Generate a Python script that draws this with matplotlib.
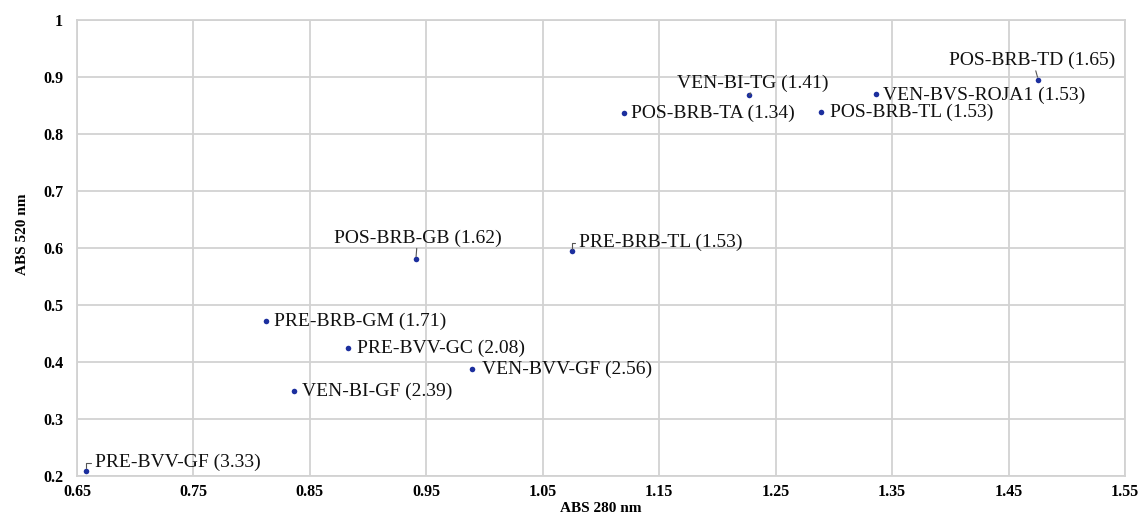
import numpy as np
import matplotlib
matplotlib.use("Agg")
import matplotlib.pyplot as plt

# -----------------------------
# data
# -----------------------------
samples = ["PRE-BVV-GF", "PRE-BRB-GM", "PRE-BVV-GC", "VEN-BI-GF", "VEN-BVV-GF",
           "POS-BRB-GB", "PRE-BRB-TL", "POS-BRB-TA", "VEN-BI-TG", "POS-BRB-TL",
           "VEN-BVS-ROJA1", "POS-BRB-TD"]
ratios = ["3.33", "1.71", "2.08", "2.39", "2.56", "1.62", "1.53", "1.34", "1.41",
          "1.53", "1.53", "1.65"]
abs280 = [0.658, 0.812, 0.883, 0.836, 0.989, 0.941, 1.075, 1.1195, 1.2275, 1.2885,
          1.336, 1.4755]
abs520 = [0.209, 0.472, 0.424, 0.349, 0.388, 0.580, 0.594, 0.836, 0.868, 0.838,
          0.870, 0.895]

xticks = [0.65, 0.75, 0.85, 0.95, 1.05, 1.15, 1.25, 1.35, 1.45, 1.55]
yticks = [0.2, 0.3, 0.4, 0.5, 0.6, 0.7, 0.8, 0.9, 1.0]
yticklabels = ["0.2", "0.3", "0.4", "0.5", "0.6", "0.7", "0.8", "0.9", "1"]

# label placement (pixel offsets from the dot, y up), alignment, leader line
label_pos = [(8.6, 9, "left", True), (8, 0, "left", False), (8.7, 0, "left", False),
             (8.4, 0, "left", False), (10, 0, "left", False), (2.2, 21, "center", True),
             (7.3, 9, "left", True), (7.3, 0, "left", False), (3, 12.3, "center", True),
             (9, 0, "left", False), (7, -1, "left", False), (-6.2, 19, "center", True)]

# -----------------------------
# plot
# -----------------------------
plt.rcParams["font.family"] = ["Liberation Serif", "DejaVu Serif"]
GRID = "#d2d2d2"
DOT = "#1c2f9e"

fig = plt.figure(figsize=(11.44, 5.15), dpi=100)
ax = fig.add_axes([0.0673, 0.0757, 0.9161, 0.8855])

ax.scatter(abs280, abs520, s=16, color=DOT, zorder=3, linewidths=0)

for name, r, x, y, (dx, dy, ha, lead) in zip(samples, ratios, abs280, abs520, label_pos):
    ax.annotate(f"{name} ({r})", xy=(x, y), xytext=(dx, dy),
                textcoords="offset pixels", ha=ha, va="center", fontsize=14,
                color="#111111", zorder=4)
    if lead:
        if ha == "center":
            ex, ey = dx * 0.4, dy - 10
            ax.annotate("", xy=(x, y), xytext=(ex, ey), textcoords="offset pixels",
                        arrowprops=dict(arrowstyle="-", color="#555555", lw=0.8,
                                        shrinkA=0, shrinkB=2))
        else:
            ax.annotate("", xy=(x, y), xytext=(dx - 4, dy - 1), textcoords="offset pixels",
                        arrowprops=dict(arrowstyle="-", color="#555555", lw=0.8,
                                        shrinkA=0, shrinkB=2,
                                        connectionstyle="angle,angleA=0,angleB=90,rad=0"))

ax.set_xlim(0.65, 1.55)
ax.set_ylim(0.2, 1.0)
ax.set_xticks(xticks)
ax.set_xticklabels([f"{t:.2f}" for t in xticks])
ax.set_yticks(yticks)
ax.set_yticklabels(yticklabels)
ax.tick_params(axis="x", length=0, labelsize=11.5, pad=6)
ax.tick_params(axis="y", length=0, labelsize=11.5, pad=10)
for lab in ax.get_xticklabels() + ax.get_yticklabels():
    lab.set_fontweight("bold")

ax.grid(True, color=GRID, lw=1.3)
ax.set_axisbelow(True)
for sp in ax.spines.values():
    sp.set_color(GRID)
    sp.set_linewidth(1.3)

ax.set_xlabel("ABS 280 nm", fontsize=11, fontweight="bold")
ax.xaxis.set_label_coords(0.5, -0.058)
ax.set_ylabel("ABS 520 nm", fontsize=11, fontweight="bold")
ax.yaxis.set_label_coords(-0.046, 0.53)

fig.savefig("out.png", dpi=100)
